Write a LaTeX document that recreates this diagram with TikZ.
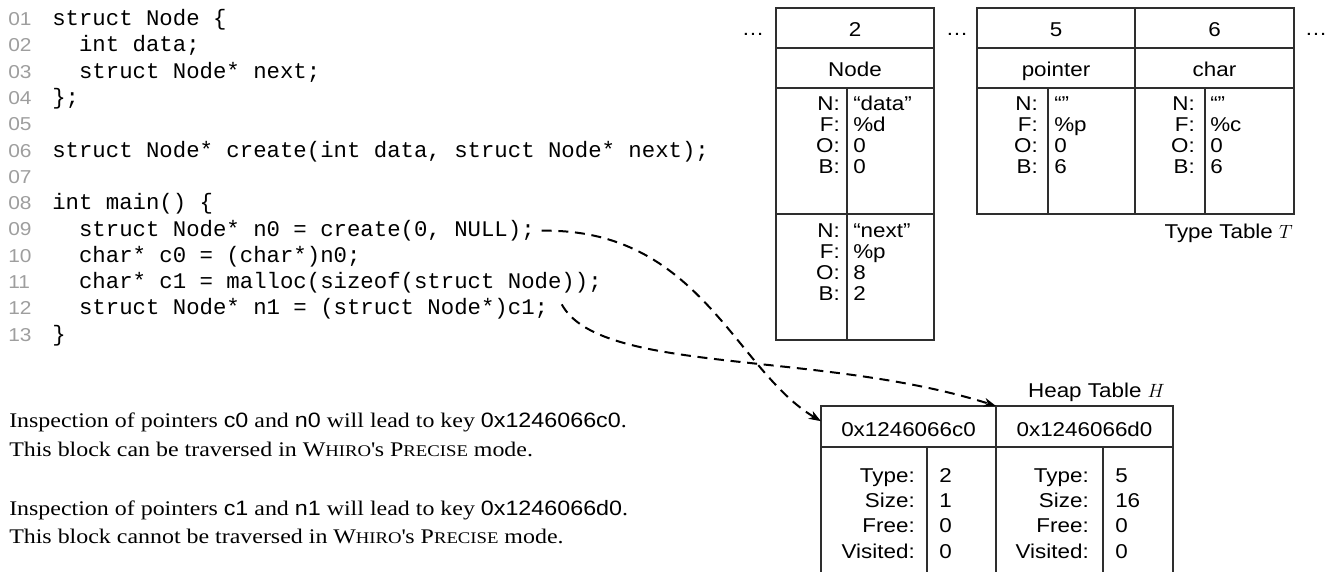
\documentclass[tikz,border=0pt]{standalone}
\usepackage{fontspec}
\setmainfont{Liberation Serif}[FakeStretch=1.15]
\setsansfont{Liberation Sans}[FakeStretch=1.12]
\setmonofont{Liberation Mono}
\usetikzlibrary{arrows.meta,fit}
\definecolor{lnum}{gray}{0.62}
\definecolor{rule}{gray}{0.18}
\newcommand\smc[1]{{\fontsize{12.2}{14}\selectfont #1}}
\tikzset{
  cell/.style={draw=rule, line width=0.9pt, inner sep=0pt, outer sep=0pt},
  tabtext/.style={font=\sffamily\fontsize{15}{18}\selectfont, inner sep=0pt},
  lab/.style={tabtext, anchor=base east},
  val/.style={tabtext, anchor=base west},
  hd/.style={tabtext, anchor=base},
  codeline/.style={font=\ttfamily\fontsize{16.75}{20}\selectfont, anchor=base west, inner sep=0pt},
  lno/.style={font=\sffamily\fontsize{14}{16}\selectfont, text=lnum, anchor=base west, inner sep=0pt},
  prose/.style={font=\rmfamily\fontsize{15.6}{19}\selectfont, anchor=base west, inner sep=0pt},
  ptr/.style={line width=1.5pt, dash pattern=on 7.5pt off 5pt,
    -{Stealth[length=9pt,width=6.5pt,inset=2.5pt]}},
}
\begin{document}
\begin{tikzpicture}[x=0.75pt,y=-0.75pt]
\useasboundingbox (0,0) rectangle (1331,571);
\clip (0,0) rectangle (1331,571);

% ---- source listing -------------------------------------------------
\foreach \n [count=\k] in {01,02,03,04,05,06,07,08,09,10,11,12,13}
  \node[lno] (ln\k) at (8,{25.5+(\k-1)*26.3}) {\n};

\node[codeline] (l01) at (52,25.5)  {struct Node \{};
\node[codeline] (l02) at (52,51.8)  {\hphantom{xx}int data;};
\node[codeline] (l03) at (52,78.1)  {\hphantom{xx}struct Node* next;};
\node[codeline] (l04) at (52,104.4) {\};};
\node[codeline] (l06) at (52,157.5) {struct Node* create(int data, struct Node* next);};
\node[codeline] (l08) at (52,209.6) {int main() \{};
\node[codeline] (l09) at (52,236.5) {\hphantom{xx}struct Node* n0 = create(0, NULL);};
\node[codeline] (l10) at (52,262.2) {\hphantom{xx}char* c0 = (char*)n0;};
\node[codeline] (l11) at (52,288.5) {\hphantom{xx}char* c1 = malloc(sizeof(struct Node));};
\node[codeline] (l12) at (52,314.8) {\hphantom{xx}struct Node* n1 = (struct Node*)c1;};
\node[codeline] (l13) at (52,341.1) {\}};

% ---- explanations ---------------------------------------------------
\node[prose] (p1) at (9,427) {Inspection of pointers \textsf{c0} and \textsf{n0} will lead to key \textsf{0x1246066c0}.};
\node[prose] (p2) at (9,456) {This block can be traversed in W\smc{HIRO}\textquotesingle{}s P\smc{RECISE} mode.};
\node[prose] (p3) at (9,515) {Inspection of pointers \textsf{c1} and \textsf{n1} will lead to key \textsf{0x1246066d0}.};
\node[prose] (p4) at (9,543) {This block cannot be traversed in W\smc{HIRO}\textquotesingle{}s P\smc{RECISE} mode.};

% ---- type table: entry 2 --------------------------------------------
\node[cell, fit={(776,8) (934,48)}]    (t2h) {};
\node[cell, fit={(776,48) (934,88)}]   (t2n) {};
\node[cell, fit={(776,88) (847,214)}]  (t2al) {};
\node[cell, fit={(847,88) (934,214)}]  (t2av) {};
\node[cell, fit={(776,214) (847,340)}] (t2bl) {};
\node[cell, fit={(847,214) (934,340)}] (t2bv) {};
\node[hd] (d1) at (753,36) {\ldots};
\node[hd] (t2ht) at (855,36.5) {2};
\node[hd] (t2nt) at (855,76.5) {Node};
\node[lab] at (840,110) {N:}; \node[val] at (853,110) {“data”};
\node[lab] at (840,131) {F:}; \node[val] at (853,131) {\%d};
\node[lab] at (840,152) {O:}; \node[val] at (853,152) {0};
\node[lab] at (840,173) {B:}; \node[val] at (853,173) {0};
\node[lab] at (840,237) {N:}; \node[val] at (853,237) {“next”};
\node[lab] at (840,258) {F:}; \node[val] at (853,258) {\%p};
\node[lab] at (840,279) {O:}; \node[val] at (853,279) {8};
\node[lab] at (840,300) {B:}; \node[val] at (853,300) {2};
\node[hd] (d2) at (957,36) {\ldots};

% ---- type table: entries 5 and 6 ------------------------------------
\node[cell, fit={(977,8) (1135,48)}]    (t5h) {};
\node[cell, fit={(1135,8) (1294,48)}]   (t6h) {};
\node[cell, fit={(977,48) (1135,88)}]   (t5n) {};
\node[cell, fit={(1135,48) (1294,88)}]  (t6n) {};
\node[cell, fit={(977,88) (1048,214)}]  (t5l) {};
\node[cell, fit={(1048,88) (1135,214)}] (t5v) {};
\node[cell, fit={(1135,88) (1205,214)}] (t6l) {};
\node[cell, fit={(1205,88) (1294,214)}] (t6v) {};
\node[hd] at (1056,36.5) {5};
\node[hd] at (1214.5,36.5) {6};
\node[hd] at (1056,76.5) {pointer};
\node[hd] at (1214.5,76.5) {char};
\node[lab] at (1038,110) {N:}; \node[val] at (1054,110) {“”};
\node[lab] at (1038,131) {F:}; \node[val] at (1054,131) {\%p};
\node[lab] at (1038,152) {O:}; \node[val] at (1054,152) {0};
\node[lab] at (1038,173) {B:}; \node[val] at (1054,173) {6};
\node[lab] at (1195,110) {N:}; \node[val] at (1210,110) {“”};
\node[lab] at (1195,131) {F:}; \node[val] at (1210,131) {\%c};
\node[lab] at (1195,152) {O:}; \node[val] at (1210,152) {0};
\node[lab] at (1195,173) {B:}; \node[val] at (1210,173) {6};
\node[hd] (d3) at (1316,36) {\ldots};
\node[tabtext, anchor=base east] (ttl) at (1293,238) {Type Table $T$};

% ---- heap table -----------------------------------------------------
\node[tabtext, anchor=base east] (htl) at (1165,397) {Heap Table $H$};
\node[cell, fit={(821,406) (996,447)}]   (hA) {};
\node[cell, fit={(996,406) (1173,447)}]  (hB) {};
\node[cell, fit={(821,447) (927,600)}]   (hAl) {};
\node[cell, fit={(927,447) (996,600)}]   (hAv) {};
\node[cell, fit={(996,447) (1103,600)}]  (hBl) {};
\node[cell, fit={(1103,447) (1173,600)}] (hBv) {};
\node[hd] at (908.5,436) {0x1246066c0};
\node[hd] at (1084.5,436) {0x1246066d0};
\node[lab] at (915,482) {Type:};    \node[val] at (939,482) {2};
\node[lab] at (915,507) {Size:};    \node[val] at (939,507) {1};
\node[lab] at (915,532) {Free:};    \node[val] at (939,532) {0};
\node[lab] at (915,558) {Visited:}; \node[val] at (939,558) {0};
\node[lab] at (1089,482) {Type:};    \node[val] at (1115,482) {5};
\node[lab] at (1089,507) {Size:};    \node[val] at (1115,507) {16};
\node[lab] at (1089,532) {Free:};    \node[val] at (1115,532) {0};
\node[lab] at (1089,558) {Visited:}; \node[val] at (1115,558) {0};

% ---- pointers into the heap table -----------------------------------
\coordinate (s1) at ([xshift=5pt]l09.east);
\coordinate (s2) at ([xshift=10pt,yshift=3.5pt]l12.east);
\draw[ptr] (s1) .. controls (700,228) and (735,370) .. ([yshift=4pt]hA.west);
\draw[ptr] (s2) .. controls (600,375) and (820,350) .. (hB.north west);
\end{tikzpicture}
\end{document}
